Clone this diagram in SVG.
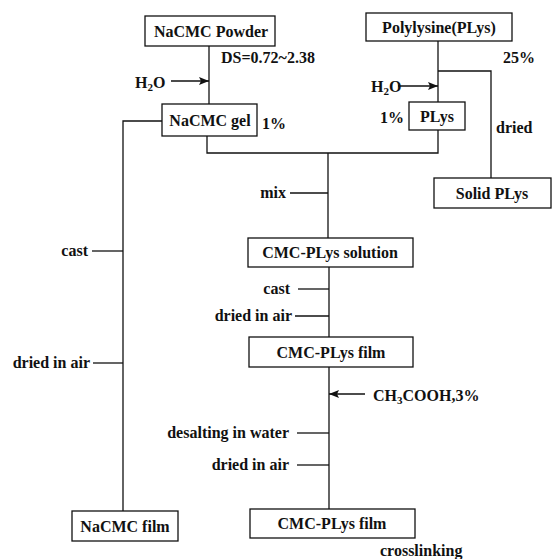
<svg xmlns="http://www.w3.org/2000/svg" width="552" height="559" viewBox="0 0 552 559">
<style>
text{font-family:"Liberation Serif","Times New Roman",serif;font-size:16px;font-weight:bold;fill:#111}
.c{text-anchor:middle}
.e{text-anchor:end}
rect{fill:#fff;stroke:#111;stroke-width:1.3}
.ln{fill:none;stroke:#111;stroke-width:1.3}
</style>
<defs>
<marker id="ah" viewBox="0 0 10 8" refX="10" refY="4" markerWidth="10" markerHeight="8" markerUnits="userSpaceOnUse" orient="auto">
<path d="M0,0 L10,4 L0,8 L2,4 Z" fill="#111"/>
</marker>
</defs>
<rect width="552" height="559" fill="#fff" style="stroke:none"/>
<g id="connectors">
<path class="ln" d="M209,46 V104"/>
<path class="ln" d="M171,81 H209" marker-end="url(#ah)"/>
<path class="ln" d="M162,121 H123 V511"/>
<path class="ln" d="M92,251 H123"/>
<path class="ln" d="M93,363 H123"/>
<path class="ln" d="M207,136 V153 H438 V130"/>
<path class="ln" d="M438,41 V102"/>
<path class="ln" d="M438,71 H491 V178"/>
<path class="ln" d="M398,86 H438" marker-end="url(#ah)"/>
<path class="ln" d="M328,153 V238"/>
<path class="ln" d="M290,193 H328"/>
<path class="ln" d="M329,267 V337"/>
<path class="ln" d="M298,289 H329"/>
<path class="ln" d="M295,316 H329"/>
<path class="ln" d="M329,367 V509"/>
<path class="ln" d="M365,394 H329" marker-end="url(#ah)"/>
<path class="ln" d="M297,433 H329"/>
<path class="ln" d="M297,465 H329"/>
</g>
<g id="nacmc-powder">
<rect x="145" y="16" width="130" height="30"/>
<text class="c" x="211" y="37">NaCMC Powder</text>
</g>
<text x="221" y="63">DS=0.72~2.38</text>
<text x="135" y="88">H<tspan font-size="11" dy="3">2</tspan><tspan dy="-3">O</tspan></text>
<g id="nacmc-gel">
<rect x="162" y="104" width="95" height="32"/>
<text class="c" x="210" y="126">NaCMC gel</text>
</g>
<text x="262" y="129">1%</text>
<text class="e" x="88" y="256">cast</text>
<text class="e" x="90" y="368">dried in air</text>
<g id="nacmc-film">
<rect x="72" y="511" width="106" height="30"/>
<text class="c" x="125" y="532">NaCMC film</text>
</g>
<g id="polylysine">
<rect x="366" y="13" width="146" height="28"/>
<text class="c" x="439" y="33">Polylysine(PLys)</text>
</g>
<text x="503" y="63">25%</text>
<text x="371" y="92">H<tspan font-size="11" dy="3">2</tspan><tspan dy="-3">O</tspan></text>
<g id="plys">
<rect x="409" y="102" width="56" height="28"/>
<text class="c" x="437" y="122">PLys</text>
</g>
<text x="380" y="123">1%</text>
<text x="496" y="133">dried</text>
<g id="solid-plys">
<rect x="434" y="178" width="117" height="30"/>
<text class="c" x="492" y="199">Solid PLys</text>
</g>
<text class="e" x="286" y="198">mix</text>
<g id="cmc-plys-solution">
<rect x="248" y="238" width="165" height="29"/>
<text class="c" x="330" y="258">CMC-PLys solution</text>
</g>
<text class="e" x="290" y="294">cast</text>
<text class="e" x="292" y="321">dried in air</text>
<g id="cmc-plys-film-1">
<rect x="249" y="337" width="164" height="30"/>
<text class="c" x="331" y="358">CMC-PLys film</text>
</g>
<text x="373" y="401">CH<tspan font-size="11" dy="3">3</tspan><tspan dy="-3">COOH,3%</tspan></text>
<text class="e" x="289" y="438">desalting in water</text>
<text class="e" x="289" y="470">dried in air</text>
<g id="cmc-plys-film-2">
<rect x="250" y="509" width="165" height="29"/>
<text class="c" x="332" y="529">CMC-PLys film</text>
</g>
<text x="380" y="556">crosslinking</text>
</svg>
